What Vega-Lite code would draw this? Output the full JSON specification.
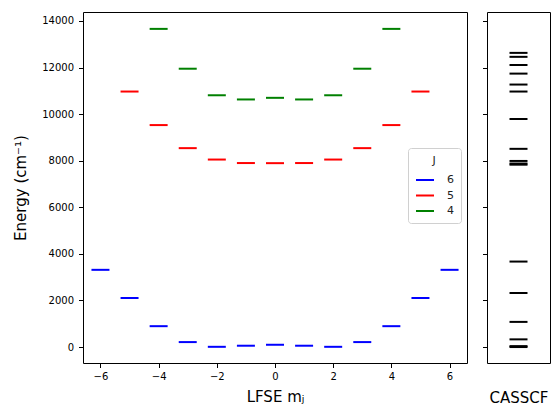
{
  "$schema": "https://vega.github.io/schema/vega-lite/v6.json",
  "padding": {"left": 13, "top": 11, "right": 4, "bottom": 0},
  "background": "white",
  "config": {
    "font": "DejaVu Sans",
    "view": {"stroke": "black", "strokeWidth": 1},
    "axis": {"domain": false, "grid": false, "tickColor": "black", "tickSize": 4.5, "labelColor": "black", "labelFontSize": 10, "titleFontSize": 15, "titleFontWeight": "normal", "titleColor": "black", "labelFont": "DejaVu Sans", "titleFont": "DejaVu Sans"},
    "legend": {"titleColor": "#222222", "labelColor": "#222222", "titleFontWeight": "normal"},
    "concat": {"spacing": 13}
  },
  "datasets": {
    "lfse": [
      {"J": 6, "mJ": -6, "E": 3315}, {"J": 6, "mJ": -5, "E": 2105}, {"J": 6, "mJ": -4, "E": 896}, {"J": 6, "mJ": -3, "E": 213}, {"J": 6, "mJ": -2, "E": 10}, {"J": 6, "mJ": -1, "E": 57}, {"J": 6, "mJ": 0, "E": 98}, {"J": 6, "mJ": 1, "E": 57}, {"J": 6, "mJ": 2, "E": 10}, {"J": 6, "mJ": 3, "E": 213}, {"J": 6, "mJ": 4, "E": 896}, {"J": 6, "mJ": 5, "E": 2105}, {"J": 6, "mJ": 6, "E": 3315},
      {"J": 5, "mJ": -5, "E": 10970}, {"J": 5, "mJ": -4, "E": 9530}, {"J": 5, "mJ": -3, "E": 8540}, {"J": 5, "mJ": -2, "E": 8050}, {"J": 5, "mJ": -1, "E": 7900}, {"J": 5, "mJ": 0, "E": 7895}, {"J": 5, "mJ": 1, "E": 7900}, {"J": 5, "mJ": 2, "E": 8050}, {"J": 5, "mJ": 3, "E": 8540}, {"J": 5, "mJ": 4, "E": 9530}, {"J": 5, "mJ": 5, "E": 10970},
      {"J": 4, "mJ": -4, "E": 13660}, {"J": 4, "mJ": -3, "E": 11950}, {"J": 4, "mJ": -2, "E": 10810}, {"J": 4, "mJ": -1, "E": 10630}, {"J": 4, "mJ": 0, "E": 10700}, {"J": 4, "mJ": 1, "E": 10630}, {"J": 4, "mJ": 2, "E": 10810}, {"J": 4, "mJ": 3, "E": 11950}, {"J": 4, "mJ": 4, "E": 13660}
    ],
    "casscf": [
      {"method": "CASSCF", "E": 0}, {"method": "CASSCF", "E": 40}, {"method": "CASSCF", "E": 330}, {"method": "CASSCF", "E": 1080}, {"method": "CASSCF", "E": 2320}, {"method": "CASSCF", "E": 3670},
      {"method": "CASSCF", "E": 7830}, {"method": "CASSCF", "E": 7880}, {"method": "CASSCF", "E": 7990}, {"method": "CASSCF", "E": 8510}, {"method": "CASSCF", "E": 9790},
      {"method": "CASSCF", "E": 10970}, {"method": "CASSCF", "E": 11270}, {"method": "CASSCF", "E": 11740}, {"method": "CASSCF", "E": 12110}, {"method": "CASSCF", "E": 12460}, {"method": "CASSCF", "E": 12630}
    ]
  },
  "hconcat": [
    {
      "width": 384,
      "height": 351,
      "data": {"name": "lfse"},
      "mark": {"type": "rule", "strokeWidth": 2, "xOffset": -9, "x2Offset": 9, "opacity": 1},
      "encoding": {
        "x": {"field": "mJ", "type": "quantitative", "scale": {"domain": [-6.6, 6.6], "nice": false, "zero": false}, "axis": {"values": [-6, -4, -2, 0, 2, 4, 6], "title": "LFSE mⱼ", "labelPadding": 4, "titlePadding": 8, "labelFlush": false}},
        "x2": {"field": "mJ"},
        "y": {"field": "E", "type": "quantitative", "scale": {"domain": [-685, 14385], "nice": false, "zero": false}, "axis": {"values": [0, 2000, 4000, 6000, 8000, 10000, 12000, 14000], "format": "d", "title": "Energy (cm⁻¹)", "labelPadding": 5, "titlePadding": 13}},
        "color": {
          "field": "J", "type": "nominal",
          "scale": {"domain": [6, 5, 4], "range": ["#0000ff", "#ff0000", "#008000"]},
          "legend": {
            "orient": "none", "legendX": 325, "legendY": 136, "title": "J", "titleAnchor": "middle",
            "titleFontSize": 11, "titleFontWeight": "normal", "titleColor": "#222222", "titlePadding": 4,
            "labelFontSize": 11, "labelColor": "#222222", "labelOffset": 12,
            "symbolType": "stroke", "symbolSize": 324, "symbolStrokeWidth": 2,
            "padding": 7, "rowPadding": 0.5, "strokeColor": "#d0d0d0", "fillColor": "white", "cornerRadius": 3,
            "encode": {"title": {"update": {"fill": {"value": "#222222"}}}}
          }
        }
      }
    },
    {
      "width": 63,
      "height": 351,
      "data": {"name": "casscf"},
      "mark": {"type": "tick", "orient": "horizontal", "size": 18, "thickness": 2, "color": "black", "opacity": 1},
      "encoding": {
        "x": {"field": "method", "type": "nominal", "axis": {"labels": false, "ticks": false, "title": "CASSCF", "titlePadding": 27}},
        "y": {"field": "E", "type": "quantitative", "scale": {"domain": [-685, 14385], "nice": false, "zero": false}, "axis": {"values": [0, 2000, 4000, 6000, 8000, 10000, 12000, 14000], "labels": false, "title": null}}
      }
    }
  ]
}
